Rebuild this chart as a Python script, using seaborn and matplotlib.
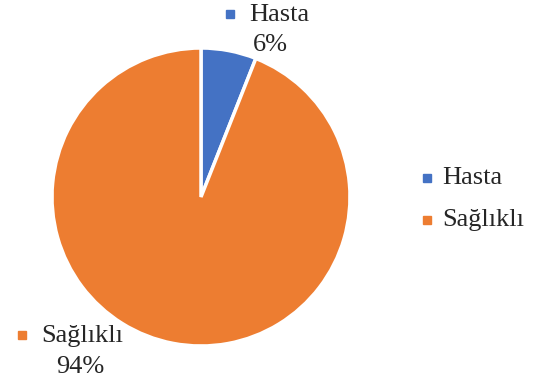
import matplotlib
matplotlib.use("Agg")
import matplotlib.pyplot as plt
from matplotlib.lines import Line2D
import seaborn as sns

categories = ["Hasta", "Sağlıklı"]
values = [6, 94]
colors = ["#4472C4", "#ED7D31"]

sns.set_style("white")
plt.rcParams["font.family"] = ["Liberation Serif", "DejaVu Serif"]

W, H = 534, 383
fig = plt.figure(figsize=(W / 100, H / 100), dpi=100)


def fx(x):
    return x / W


def fy(y):
    return 1 - y / H


def key(x, y, col):
    fig.add_artist(Line2D([fx(x)], [fy(y)], marker="s", markersize=5.5,
                          color=col, linestyle="none",
                          transform=fig.transFigure))


# pie area
cx, cy, r = 201, 197, 149
ax = fig.add_axes([fx(cx - r), fy(cy + r), 2 * r / W, 2 * r / H])
wedges, _ = ax.pie(values, colors=colors, startangle=90, counterclock=False,
                   wedgeprops=dict(edgecolor="white", linewidth=2.5))
ax.set_aspect("equal")
ax.set_xlim(-1, 1)
ax.set_ylim(-1, 1)
ax.axis("off")

total = sum(values)
fs = 19

# data labels: key square + category name, percentage below
label_pos = [(249, 15, 270, 45), (41, 336, 80, 367)]
for (tx, ty, px, py), cat, val, col in zip(label_pos, categories, values, colors):
    fig.text(fx(tx), fy(ty), cat, fontsize=fs, ha="left", va="center")
    fig.text(fx(px), fy(py), f"{round(val / total * 100)}%", fontsize=fs,
             ha="center", va="center")
    key(tx - 19, ty - 1, col)

# legend entries
for i, (cat, col) in enumerate(zip(categories, colors)):
    y = 178 + 42 * i
    key(427, y, col)
    fig.text(fx(442), fy(y), cat, fontsize=fs, ha="left", va="center")

fig.savefig("out.png", dpi=100)
